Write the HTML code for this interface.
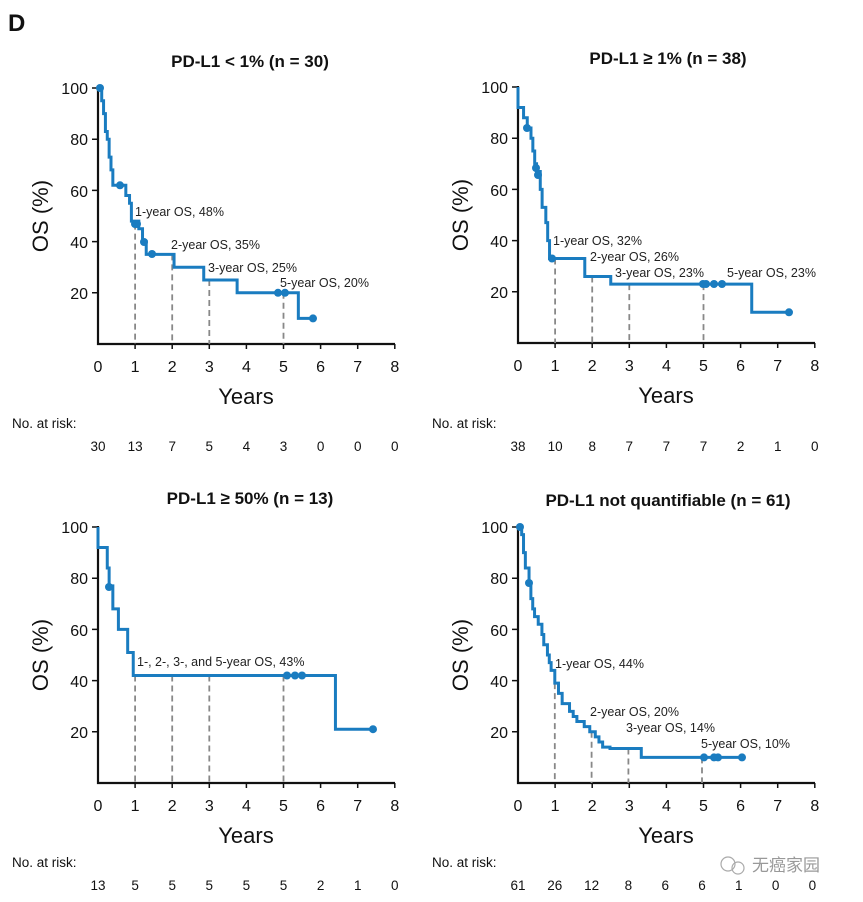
<!DOCTYPE html>
<html><head><meta charset="utf-8"><style>
html,body{margin:0;padding:0;background:#fff}
svg{display:block}
text{font-family:"Liberation Sans",sans-serif;fill:#111}
.t{font-weight:bold;font-size:17px;text-anchor:middle}
.yl{font-size:16px;text-anchor:end}
.xl{font-size:16px;text-anchor:middle}
.ax{font-size:22px;text-anchor:middle}
.an{font-size:12.5px;fill:#222}
.r{font-size:13.5px;text-anchor:middle}
.nr{font-size:13.5px}
.c{fill:none;stroke:#1a7cc0;stroke-width:3;vector-effect:non-scaling-stroke;stroke-linejoin:miter}
.d{stroke:#888;stroke-width:1.8;stroke-dasharray:6,4;vector-effect:non-scaling-stroke}
.dot{fill:#1a7cc0}
</style></head><body>
<svg width="863" height="902" viewBox="0 0 863 902" xmlns="http://www.w3.org/2000/svg">
<defs>
<g id="axes">
<path d="M0,-257V0H297" fill="none" stroke="#111" stroke-width="2.2"/>
<path d="M-6,-51.2H0M-6,-102.4H0M-6,-153.6H0M-6,-204.8H0M-6,-256H0" stroke="#111" stroke-width="1.5"/>
<path d="M37.1,0v5M74.2,0v5M111.3,0v5M148.4,0v5M185.5,0v5M222.6,0v5M259.7,0v5M296.8,0v5" stroke="#111" stroke-width="1.5"/>
<text class="yl" x="-10" y="-45">20</text><text class="yl" x="-10" y="-96">40</text><text class="yl" x="-10" y="-147">60</text><text class="yl" x="-10" y="-199">80</text><text class="yl" x="-10" y="-250">100</text>
<text class="xl" x="0" y="28">0</text><text class="xl" x="37.1" y="28">1</text><text class="xl" x="74.2" y="28">2</text><text class="xl" x="111.3" y="28">3</text><text class="xl" x="148.4" y="28">4</text><text class="xl" x="185.5" y="28">5</text><text class="xl" x="222.6" y="28">6</text><text class="xl" x="259.7" y="28">7</text><text class="xl" x="296.8" y="28">8</text>
<text class="ax" x="148" y="60">Years</text>
<text class="ax" transform="translate(-50,-128) rotate(-90)">OS (%)</text>
</g>
</defs>
<text x="8" y="31" style="font-weight:bold;font-size:24px">D</text>

<!-- TL -->
<text class="t" x="250" y="67">PD-L1 &lt; 1% (n = 30)</text>
<g transform="translate(98,344)">
<use href="#axes"/>
<g transform="scale(37.1,-2.56)">
<path class="d" d="M1,47V0M2,35V0M3,25V0M5,20V0"/>
<path class="c" d="M0,100H0.1V95H0.15V90H0.2V83H0.25V80H0.3V73H0.35V68H0.4V62H0.75V58H0.85V55H0.9V48H1.1V45H1.2V40H1.3V35H2.05V30H2.85V25H3.75V20H5.4V10H5.8"/>
</g>
<g class="dot"><circle cx="2" cy="-256" r="4"/><circle cx="22" cy="-158.7" r="4"/><circle cx="37" cy="-120" r="4"/><circle cx="39" cy="-120" r="4"/><circle cx="46" cy="-102" r="4"/><circle cx="54" cy="-90" r="4"/><circle cx="180" cy="-51.2" r="4"/><circle cx="187" cy="-51.2" r="4"/><circle cx="215" cy="-25.6" r="4"/></g>
<text class="an" x="37" y="-128">1-year OS, 48%</text>
<text class="an" x="73" y="-95">2-year OS, 35%</text>
<text class="an" x="110" y="-72">3-year OS, 25%</text>
<text class="an" x="182" y="-57">5-year OS, 20%</text>
<text class="nr" x="-86" y="84">No. at risk:</text>
<g transform="translate(0,107)"><text class="r" x="0">30</text><text class="r" x="37.1">13</text><text class="r" x="74.2">7</text><text class="r" x="111.3">5</text><text class="r" x="148.4">4</text><text class="r" x="185.5">3</text><text class="r" x="222.6">0</text><text class="r" x="259.7">0</text><text class="r" x="296.8">0</text></g>
</g>

<!-- TR -->
<text class="t" x="668" y="64">PD-L1 ≥ 1% (n = 38)</text>
<g transform="translate(518,343)">
<use href="#axes"/>
<g transform="scale(37.1,-2.56)">
<path class="d" d="M1,33V0M2,26V0M3,23V0M5,23V0"/>
<path class="c" d="M0,100V92H0.15V88H0.25V84H0.35V80H0.4V75H0.45V70H0.5V67H0.6V60H0.65V53H0.75V47H0.8V40H0.85V33H1.8V26H2.5V23H6.3V12H7.35"/>
</g>
<g class="dot"><circle cx="9" cy="-215" r="4"/><circle cx="18" cy="-175" r="4"/><circle cx="20" cy="-168" r="4"/><circle cx="34" cy="-84.5" r="4"/><circle cx="185" cy="-59" r="4"/><circle cx="188" cy="-59" r="4"/><circle cx="196" cy="-59" r="4"/><circle cx="204" cy="-59" r="4"/><circle cx="271" cy="-30.7" r="4"/></g>
<text class="an" x="35" y="-98">1-year OS, 32%</text>
<text class="an" x="72" y="-82">2-year OS, 26%</text>
<text class="an" x="97" y="-66">3-year OS, 23%</text>
<text class="an" x="209" y="-66">5-year OS, 23%</text>
<text class="nr" x="-86" y="85">No. at risk:</text>
<g transform="translate(0,108)"><text class="r" x="0">38</text><text class="r" x="37.1">10</text><text class="r" x="74.2">8</text><text class="r" x="111.3">7</text><text class="r" x="148.4">7</text><text class="r" x="185.5">7</text><text class="r" x="222.6">2</text><text class="r" x="259.7">1</text><text class="r" x="296.8">0</text></g>
</g>

<!-- BL -->
<text class="t" x="250" y="504">PD-L1 ≥ 50% (n = 13)</text>
<g transform="translate(98,783)">
<use href="#axes"/>
<g transform="scale(37.1,-2.56)">
<path class="d" d="M1,42V0M2,42V0M3,42V0M5,42V0"/>
<path class="c" d="M0,100V92H0.25V84H0.3V77H0.4V68H0.55V60H0.8V51H0.95V42H6.4V21H7.4"/>
</g>
<g class="dot"><circle cx="11" cy="-196" r="4"/><circle cx="189" cy="-107.5" r="4"/><circle cx="197" cy="-107.5" r="4"/><circle cx="204" cy="-107.5" r="4"/><circle cx="275" cy="-53.8" r="4"/></g>
<text class="an" x="39" y="-117">1-, 2-, 3-, and 5-year OS, 43%</text>
<text class="nr" x="-86" y="84">No. at risk:</text>
<g transform="translate(0,107)"><text class="r" x="0">13</text><text class="r" x="37.1">5</text><text class="r" x="74.2">5</text><text class="r" x="111.3">5</text><text class="r" x="148.4">5</text><text class="r" x="185.5">5</text><text class="r" x="222.6">2</text><text class="r" x="259.7">1</text><text class="r" x="296.8">0</text></g>
</g>

<!-- BR -->
<text class="t" x="668" y="506">PD-L1 not quantifiable (n = 61)</text>
<g transform="translate(518,783)">
<use href="#axes"/>
<g transform="scale(36.8,-2.56)">
<path class="d" d="M1,39V0M2,20V0M3,13.5V0M5,10V0"/>
<path class="c" d="M0,100H0.1V97H0.15V90H0.2V84H0.3V78H0.35V72H0.4V68H0.45V65H0.55V62H0.65V58H0.7V54H0.8V50H0.85V47H0.9V44H1.0V39H1.1V35H1.2V31H1.4V28H1.5V26H1.6V24H1.8V22H1.95V20H2.1V18H2.2V16H2.3V14H2.5V13.5H3.35V10H6.1"/>
</g>
<g class="dot"><circle cx="2" cy="-256" r="4"/><circle cx="11" cy="-200" r="4"/><circle cx="186" cy="-25.6" r="4"/><circle cx="196" cy="-25.6" r="4"/><circle cx="200" cy="-25.6" r="4"/><circle cx="224" cy="-25.6" r="4"/></g>
<text class="an" x="37" y="-115">1-year OS, 44%</text>
<text class="an" x="72" y="-67">2-year OS, 20%</text>
<text class="an" x="108" y="-51">3-year OS, 14%</text>
<text class="an" x="183" y="-35">5-year OS, 10%</text>
<text class="nr" x="-86" y="84">No. at risk:</text>
<g transform="translate(0,107)"><text class="r" x="0">61</text><text class="r" x="36.8">26</text><text class="r" x="73.6">12</text><text class="r" x="110.4">8</text><text class="r" x="147.2">6</text><text class="r" x="184">6</text><text class="r" x="220.8">1</text><text class="r" x="257.6">0</text><text class="r" x="294.4">0</text></g>
</g>
<text x="752" y="871" style="font-family:'Noto Sans CJK SC',sans-serif;font-size:17px;fill:#999">无癌家园</text>
<circle cx="728" cy="864" r="7" fill="none" stroke="#aaa" stroke-width="1.2"/><circle cx="738" cy="868" r="6" fill="none" stroke="#aaa" stroke-width="1.2"/>
</svg>
</body></html>
